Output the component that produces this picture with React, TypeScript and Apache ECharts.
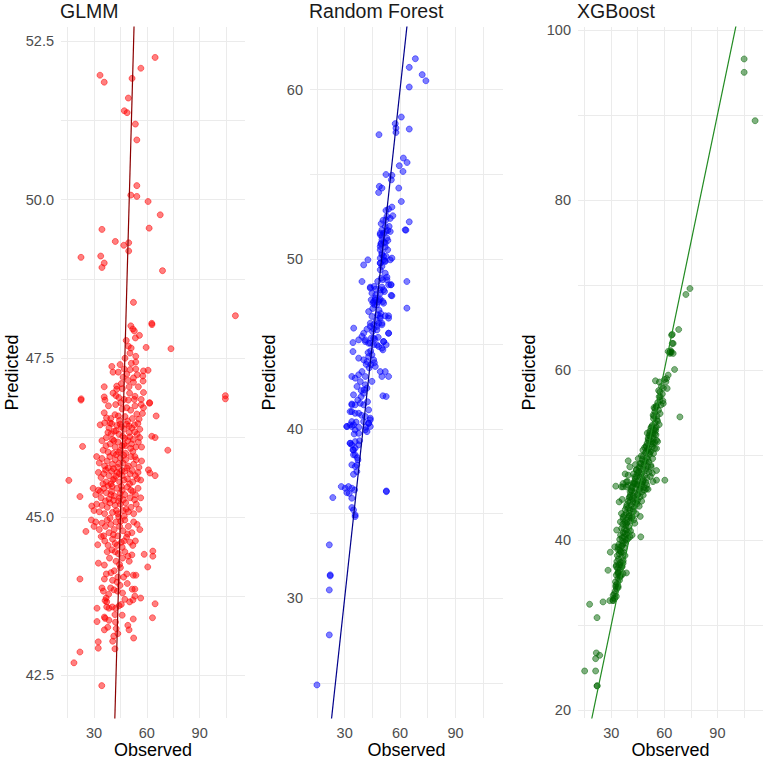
import React, { useEffect, useRef } from "react";
import * as echarts from "echarts";

// ---------- axes ----------
const observedRange = [11.25, 115.75];
const xGridValues = [15, 30, 45, 60, 75, 90, 105];
const xLabelValues = [30, 60, 90];

const glmmYRange = [41.83, 52.72];
const glmmYGrid = [42.5, 43.75, 45, 46.25, 47.5, 48.75, 50, 51.25, 52.5];
const glmmYLabels = [42.5, 45, 47.5, 50, 52.5];

const rfYRange = [22.95, 63.7];
const rfYGrid = [25, 30, 35, 40, 45, 50, 55, 60];
const rfYLabels = [30, 40, 50, 60];

const xgbYRange = [19.1, 100.35];
const xgbYGrid = [20, 30, 40, 50, 60, 70, 80, 90, 100];
const xgbYLabels = [20, 40, 60, 80, 100];

const identityLine = [[0, 0], [130, 130]];

// ---------- data: [observed, predicted] ----------
const glmmPoints = [
  [64.7,52.24],[56.6,52.07],[33.4,51.96],[35.8,51.85],[51.6,51.91],[49.5,51.6],[47.2,51.4],[48.8,51.37],[53.5,51.19],[54.3,50.94],
  [54.3,50.22],[50.9,50.07],[54.3,50.05],[60.7,49.97],[67.6,49.76],[34.5,49.53],[61.3,49.55],[42.1,49.34],[46.9,49.28],[49.7,49.32],
  [49.7,49.19],[22.6,49.09],[33.8,49.11],[35.8,49.0],[34.5,48.93],[68.9,48.88],[52.4,48.38],[110.3,48.17],
  [62.8,48.05],[62.9,48.03],[50.9,48.01],[52,47.96],[52.9,47.93],[55.8,47.86],[53.5,47.82],[49.5,47.69],[51.1,47.66],[59.6,47.67],
  [73.7,47.65],[47.6,47.5],[53.7,47.53],[53.7,47.44],[48.3,47.78],[50.4,47.58],
  [40.1,47.37],[40.8,47.28],[47.2,47.33],[53.7,47.33],[58.1,47.3],[60.7,47.31],[48.6,47.25],[52.4,47.19],[57.7,47.22],[57.9,47.14],
  [52.4,47.12],[49.9,47.05],[35.8,47.05],[42.9,47.06],[42.9,47.01],[50.5,47.32],[45.5,47.1],[46.5,47.2],[44.8,47.4],[55.2,47.05],
  [51.2,47.42],[49.3,47.15],[54.6,47.24],[46.1,47.02],[43.8,47.28],
  [58.1,46.96],[53.3,46.9],[22.6,46.84],[22.7,46.86],[35.8,46.89],[36.2,46.84],[42.5,46.91],[104.6,46.91],[104.6,46.86],[47.1,46.85],
  [49.5,46.84],[52.9,46.85],[56.8,46.85],[61.5,46.79],[61.6,46.8],[48.6,46.72],[53.3,46.75],[56.8,46.77],[58.1,46.72],[35.8,46.64],
  [41.9,46.61],[43.8,46.59],[54.3,46.62],[57.5,46.63],[65.3,46.59],[39.5,46.55],[44.5,46.52],[46,46.7],[50.2,46.95],[45.2,46.8],
  [38.2,46.75],[51.8,46.55],[40.8,46.95],[47.6,46.58],[50.8,46.68],[42.3,46.77],[55.6,46.54],[37.1,46.56],[44.1,46.88],[49.1,46.51],
  [33.5,46.45],[36,46.48],[38.5,46.4],[40,46.47],[41.5,46.35],[43,46.44],[44.2,46.3],[45.5,46.42],[47,46.38],[48.5,46.46],
  [50,46.33],[51.5,46.4],[53,46.45],[54.5,46.3],[56,46.38],[34.5,46.2],[37,46.25],[39.2,46.15],[40.5,46.22],[42,46.1],
  [43.5,46.18],[45,46.05],[46.3,46.27],[47.8,46.12],[49.2,46.2],[50.8,46.08],[52.3,46.22],[53.8,46.1],[55.2,46.18],[57,46.1],
  [35.2,46.05],[38,46.02],[41,46.0],[44,46.02],[48,46.0],[52,46.03],[62.8,46.27],[64.7,46.25],[71.9,46.05],[23.5,46.11],
  [42.6,46.36],[46.9,46.14],[39.8,46.31],[49.9,46.43],[36.8,46.12],[54.9,46.47],[39.1,46.48],[44.9,46.46],[47.4,46.24],[51.3,46.15],
  [53.1,46.34],[37.9,46.33],[41.3,46.2],[45.9,46.12],[50.3,46.26],[55.9,46.25],
  [31.5,45.95],[33,45.85],[34.5,45.92],[36,45.8],[37.5,45.88],[39,45.95],[40.5,45.83],[42,45.9],[43.5,45.78],[45,45.93],
  [46.5,45.85],[48,45.9],[49.5,45.8],[51,45.95],[52.5,45.83],[54,45.9],[55.5,45.78],[57,45.88],[32.5,45.7],[34,45.62],
  [35.5,45.68],[37,45.55],[38.5,45.65],[40,45.72],[41.5,45.6],[43,45.7],[44.5,45.55],[46,45.65],[47.5,45.72],[49,45.6],
  [50.5,45.68],[52,45.55],[53.5,45.65],[55,45.7],[56.5,45.58],[60.9,45.74],[61.8,45.69],[64.7,45.65],[15.7,45.575],[39.6,45.52],
  [44.1,45.84],[47.1,45.58],[41.1,45.76],[36.6,45.74],[50.2,45.52],[42.7,45.98],[45.8,45.73],[38.1,45.77],[40.7,45.58],[44.4,45.68],
  [48.7,45.77],[51.7,45.73],[53.2,45.95],[35.1,45.52],[42.4,45.64],[46.9,45.97],[54.6,45.6],
  [29.5,45.45],[31,45.35],[32.5,45.42],[34,45.3],[35.5,45.45],[37,45.38],[38.5,45.28],[40,45.4],[41.5,45.33],[43,45.45],
  [44.5,45.3],[46,45.42],[47.5,45.35],[49,45.47],[50.5,45.3],[52,45.4],[53.5,45.35],[55,45.45],[56.5,45.3],[22,45.32],
  [28.7,45.17],[30,45.1],[31.5,45.2],[33,45.08],[34.5,45.18],[36,45.05],[37.5,45.15],[39,45.22],[40.5,45.07],[42,45.18],
  [43.5,45.05],[45,45.2],[46.5,45.1],[48,45.22],[49.5,45.08],[51,45.15],[52.5,45.05],[54,45.2],[55.5,45.12],[41.1,45.26],
  [45.6,45.48],[38.1,45.49],[47.2,45.01],[43.9,45.25],[36.5,45.25],[39.6,45.35],[42.7,45.1],[44.9,45.37],[48.3,45.12],[50.9,45.42],
  [53,45.27],[33.6,45.4],[46.7,45.27],[40.3,45.48],
  [25.4,44.77],[28.5,44.95],[30,44.85],[31,44.92],[32.1,44.56],[33,44.8],[34.5,44.9],[35.5,44.7],[36.5,44.85],[37.5,44.95],
  [38.5,44.75],[39.5,44.88],[40.5,44.65],[41.5,44.8],[42.5,44.92],[43.5,44.7],[44.5,44.85],[45.5,44.6],[46.5,44.78],[47.5,44.95],
  [48.5,44.68],[49.5,44.85],[50.5,44.6],[51.5,44.75],[52.5,44.92],[53.5,44.62],[54.5,44.88],[56,44.8],[38,44.55],[42,44.58],
  [46,44.52],[44,45.0],[36.1,44.62],[39.1,44.98],[43.1,44.55],[47.1,44.62],[49.1,44.73],[52,44.55],[34.1,44.69],[45.1,44.93],
  [41,44.72],
  [32.5,44.27],[35.9,44.24],[37.5,44.45],[38.8,44.35],[40.2,44.48],[41.5,44.15],[42.5,44.3],[43.8,44.42],[45,44.2],[46.2,44.35],
  [47.5,44.45],[48.6,44.1],[50,44.3],[51.5,44.4],[58.5,44.41],[63.4,44.46],[63.4,44.38],[60.5,44.21],[22,44.02],[35.9,44.02],
  [40.5,44.0],[43.5,44.05],[52.3,44.08],[53.8,44.08],[44.5,44.25],[39.6,44.12],[46.8,44.05],[49.3,44.38],[42,44.45],[37,44.1],
  [34.5,43.88],[35.3,43.83],[36.9,43.72],[36.3,43.68],[37.2,43.66],[39.4,43.88],[41.3,43.85],[43.3,43.83],[51.7,43.86],[53.2,43.86],
  [52.1,43.69],[50.2,43.66],[53.2,43.75],[56.5,43.72],[64.7,43.63],[31.7,43.56],[37.2,43.58],[38.5,43.56],[40.4,43.58],[42.3,43.56],
  [44.3,43.6],[45.5,43.62],[43.1,43.97],[46.2,43.8],[48.9,43.95],[47.5,43.7],[38.3,43.78],[44.8,43.92],
  [31.7,43.35],[35.9,43.42],[36.3,43.4],[38.5,43.37],[41.9,43.46],[42.2,43.34],[52.3,43.39],[63.2,43.41],[35.9,43.22],[42.6,43.24],
  [43.5,43.16],[49.2,43.29],[49.9,43.22],[52.5,43.09],[40.6,43.04],[41.2,43.12],[37.8,43.26],[46.0,43.45],
  [32.4,43.03],[32.4,42.93],[41.9,42.92],[22,42.87],[18.6,42.7],[34.4,42.34]
];

const rfPoints = [
  [68.3,61.83],[65,61.32],[72,60.89],[74,60.53],[65,60.16],[60.7,58.39],[57.4,58.0],[57.8,57.74],[57.8,57.48],[65,57.68],
  [48.6,57.35],[61.8,55.97],[63.8,55.71],[61.6,55.18],[59.6,55.52],[52.4,55.0],[55.6,54.95],[55.3,54.69],[48.8,54.3],[50.2,54.2],
  [48.4,53.94],[59.3,54.2],[60.7,53.41],[52.4,52.88],[53.8,52.96],[55.6,53.08],
  [52.9,52.53],[54.7,52.41],[52.4,52.33],[56.1,52.57],[49.8,52.1],[52,51.94],[50.2,51.74],[53.4,51.7],[54.1,51.94],[51.1,51.54],
  [49.3,51.45],[62.8,51.74],[63.2,51.72],[65,52.21],[50.2,51.35],[52.9,51.25],[49.8,50.95],[52,50.72],[53.4,51.11],
  [49.3,50.56],[50.2,50.27],[51.1,49.97],[49.3,49.78],[50.2,49.58],[52.5,50.17],[55.6,50.07],[40.3,49.67],[42.6,49.97],
  [49.3,49.38],[52,49.18],[49.8,48.89],[52.9,48.95],[55.2,48.5],[39.4,48.69],[63.7,48.69],
  [43.9,48.36],[46.9,48.24],[50.2,48.36],[44.8,48.0],[46.6,47.71],[49.3,48],[51.6,48.1],[55.2,47.87],
  [45.7,47.51],[46.2,47.32],[48.7,47.61],[51.1,47.41],[63.7,47.12],
  [43,46.92],[44.8,46.63],[49.3,46.63],[52,46.67],[53.8,46.67],[43.9,46.23],[45.7,46.14],[48.4,46.23],[50.2,46.14],
  [34.9,45.94],[40.3,45.64],[45.1,45.74],[47.5,45.84],[53.8,45.64],
  [34.5,45.09],[34.5,44.56],[37.6,45.25],[41.2,45.15],[43.9,45.05],[45.7,45.35],[48.4,44.86],[51.1,45.15],[50.7,44.66],
  [49.3,51.54],[52.5,51.64],[54.7,51.64],[50.2,51.15],[52,50.95],[49.3,50.76],[53.3,50.56],[50.2,50.36],[51.1,50.17],[49.3,50.07],
  [54.7,49.97],[52,49.87],[49.3,49.77],[52.9,48.79],[53.8,48.5],[55,48.5],[43.9,48.3],[46,48.4],[49.3,48.2],[51.1,48.2],
  [55.6,47.85],[44.4,47.61],[46.6,47.61],[49.3,47.65],[45.3,47.41],[48.4,47.51],[50.7,47.51],[47.5,47.32],
  [47.8,46.73],[49.3,46.53],[53.8,46.53],[50.2,46.23],[47.5,46.04],[43.9,46.04],[42.1,45.88],
  [53.8,45.64],[51.1,45.15],[52.5,44.96],[50.2,44.76],[39.4,45.45],[41.2,45.25],[44.4,45.35],[43,45.05],[45.7,44.96],[47.5,44.96],
  [37.6,44.17],[40.3,44.07],[43,44.27],[44.8,44.37],[42.1,43.97],[45.7,44.07],[44.2,43.78],
  [46.6,43.68],[49.3,43.38],[52,43.38],[53.8,43.09],[50.2,43.09],[52.5,41.91],
  [33.9,43.09],[35.7,42.99],[37.6,43.19],[39.4,43.38],[41.2,43.09],[38.5,42.79],[41.2,42.6],[42.1,42.4],[36.7,42.5],[39,42.26],
  [40.3,42.1],[34.8,42.01],[33.9,41.47],[33,41.02],[35.7,41.42],[38.5,41.51],[37.6,40.92],
  [31.2,40.14],[33,40.24],[33.9,40.43],[35.7,39.94],[40.3,40.43],[43,40.33],[43.9,40.53],[42.1,39.84],[37.6,39.74],
  [33,39.15],[34.5,38.76],[35.7,38.86],[37.6,39.06],[34.8,38.47],
  [50.7,41.95],[33.9,41.42],[33.9,41.02],[35.7,40.92],[40.3,41.42],[43,41.12],[41.2,40.73],[43.9,40.63],[43,40.33],[43.9,40.14],
  [41.2,39.94],[31.2,40.14],[33.9,40.14],[34.8,40.24],[37.6,40.1],
  [33,39.15],[33.9,39.06],[35.7,39.25],[34.8,38.76],[35.7,38.47],[37.2,38.17],
  [33.9,37.88],[35.7,37.78],[36.6,37.88],[36.6,37.48],[34.8,37.32],
  [28.2,36.6],[30.3,36.5],[32.1,36.6],[33.9,36.5],[35.4,36.4],[32.5,36.2],[31.2,36.24],[23.6,35.95],[52.6,36.34],[52.6,36.3],
  [33.9,35.91],[33.9,35.36],[34.8,35.22],[35.7,34.93],[35.7,34.83],
  [21.7,33.16],[22.2,31.39],[22.2,31.33],[21.7,30.5],[21.7,27.85],[15,24.9],
  [45.6,45.9],[47.2,46.4],[44.1,44.6],[46.3,45.3],[42.7,44.5],[48.6,47.0],[46.9,47.9],[50.7,48.8],[51.8,49.9],[49.6,50.9],
  [51.4,51.0],[50.8,52.3],[47.9,48.7],[45.2,47.1],[43.3,43.6],[41.7,43.8],[40.6,42.3],[38.9,41.9],[37.1,41.7],[36.2,40.4],
  [39.2,40.8],[42.4,41.6],[41.5,40.1],[38.1,39.3],[36.9,38.3],[35.2,39.7],[44.8,42.8],[46.1,43.9],[48.2,45.4],[49.6,46.8]
];

const xgbPoints = [
  [105.1,96.59],[105.1,95.02],[111.3,89.33],[74.5,69.6],[72.2,68.9],[68.1,64.78],[64.5,64.2],[64.5,63.14],[62.2,62.2],[63.1,62.1],
  [64.0,62.1],[63.6,62.3],[65.8,60.08],[68.8,54.5],[55,58.75],[60.3,47.06],[55.6,48.2],[55.6,47.06],[46.7,40.4],[29.5,38.6],
  [28.2,36.47],[17.8,32.47],[25.4,32.75],[29.2,32.9],[31,32.9],[22,30.9],[21.6,26.75],[21.2,26.08],[23.5,26.47],[15,24.63],
  [21.2,24.63],[22,22.86],[22.1,22.9],
  [64.1,64.12],[65,63.14],[63.5,62.16],[63.2,61.97],[65,61.97],[62.2,59.42],[61.3,59.02],[60.9,58.63],[61.6,57.85],
  [57.5,57.46],[57.1,56.87],[59.4,56.08],[57.5,56.47],[55.6,55.69],[54.7,55.49],
  [53.7,54.71],[52.8,53.34],[51.8,52.55],[50.9,51.77],[49.9,50.99],[54.7,52.55],[55.6,51.77],[55.6,50.79],[53.7,51.38],
  [47.1,49.93],[46.2,49.02],[44.3,48.24],[43.3,47.46],[42.4,46.67],[41.4,45.89],[40.5,45.1],
  [39.6,49.34],[40.5,48.63],[39.6,47.65],[38.6,46.87],[36.7,46.67],[32.6,46.36],[35.8,46.28],[38.6,46.28],
  [36.7,46.28],[39.6,46.47],[43.3,46.67],[48,46.86],[49.9,46.08],[34.5,44.51],
  [35.8,43.14],[35.2,42.16],[36.7,42.75],[38.6,43.92],[40.5,44.51],[38.6,41.96],
  [32,39.22],[33.9,39.22],[34.8,38.82],[36.7,39.61],[38.6,40],[37.7,40.79],
  [32.9,37.06],[33.9,36.27],[35.8,36.86],[36.7,36.08],[38.6,36.16],[34.8,35.69],
  [32.6,34.51],[33,34.31],[33.9,34.43],[31.1,33.53],[32,33.14],[31.1,32.94],
  [57.2,58.6],[58.4,58.1],[59.5,57.9],[56.8,57.6],[58.9,57.2],[60.1,58.9],[57.7,56.9],[59.2,56.4],[56.3,56.2],[58.1,55.9],
  [55.4,55.8],[56.7,55.3],[54.6,55.1],[57.6,54.9],[55.9,54.6],[53.9,54.3],[56.2,54.0],[54.8,53.8],[57.1,53.6],[53.2,53.5],
  [55.5,53.3],[54.2,55.6],
  [52.4,53.2],[54.1,53.0],[51.8,52.8],[53.5,52.6],[55.3,52.4],[52.2,52.2],[50.9,52.0],[53.8,51.9],[51.5,51.7],[54.6,51.5],
  [50.3,51.4],[52.7,51.3],[49.8,51.1],[53.3,51.0],[51.2,50.8],[55.1,52.9],[50.4,52.6],[56.2,51.6],
  [48.9,50.9],[50.6,50.6],[52.3,50.4],[49.4,50.3],[51.7,50.1],[48.2,49.9],[50.1,49.7],[53.4,49.6],[47.6,49.5],[49.3,49.3],
  [51.2,49.2],[46.9,49.0],[48.7,48.9],[50.5,48.7],[52.6,48.6],[46.2,48.5],[47.9,48.4],[49.8,48.2],[45.6,48.1],[51.4,48.0],
  [44.9,47.9],[53.9,50.2],[45.3,49.6],[43.7,48.9],
  [47.2,47.8],[48.8,47.6],[44.3,47.5],[46.1,47.4],[50.2,47.3],[43.6,47.2],[45.5,47.0],[47.7,46.9],[49.5,46.8],[42.9,46.7],
  [44.8,46.6],[46.8,46.4],[42.1,46.3],[48.6,46.2],[43.9,46.1],[45.9,45.9],[41.5,45.8],[47.4,45.7],[43.2,45.6],[44.9,45.4],
  [40.8,45.3],[42.5,45.2],[46.3,45.1],[40.1,45.0],[52.1,47.5],[53.6,46.9],[50.8,46.0],[48.1,45.3],[39.2,46.9],[37.9,47.8],
  [41.8,44.9],[43.7,44.8],[39.6,44.6],[42.4,44.5],[44.6,44.3],[38.9,44.2],[41.2,44.1],[43.1,43.9],[39.8,43.8],[37.9,43.6],
  [40.6,43.5],[42.6,43.4],[38.5,43.2],[44.2,43.1],[37.3,42.9],[39.9,42.8],[41.7,42.7],[36.8,42.5],[38.7,42.4],[40.8,42.3],
  [37.6,42.1],[43.3,42.0],[36.2,44.8],[45.8,44.0],[46.4,42.8],
  [36.5,41.9],[38.3,41.7],[39.7,41.6],[35.9,41.4],[37.5,41.3],[40.9,41.1],[36.8,40.9],[38.9,40.7],[35.3,40.6],[37.1,40.4],
  [39.6,40.2],[34.8,40.1],[36.4,39.9],[38.1,39.7],[34.3,39.5],[35.8,39.3],[37.4,39.1],[33.8,38.9],[35.2,38.7],[36.9,38.6],
  [41.8,40.6],[33.1,41.2],
  [34.6,38.4],[33.5,38.2],[35.9,38.0],[34.1,37.8],[33.2,37.5],[35.3,37.4],[34.4,37.1],[36.2,36.9],[33.6,36.7],[35.0,36.5],
  [34.1,36.2],[32.9,35.9],[35.6,35.8],[33.8,35.5],[34.7,35.3],[32.4,35.1],[36.8,37.6],
  [33.3,34.9],[32.6,34.7],[33.9,34.6],[32.2,34.0],[31.8,33.7],[32.9,33.4],[31.4,33.2],
  [44.7,45.3],[46.3,46.1],[45.1,46.5],[47.3,46.6],[48.2,47.1],[46.6,47.7],[49.6,48.4],[48.3,49.2],[50.8,49.5],[49.9,50.5],
  [51.6,50.3],[52.9,51.6],[51.4,52.3],[53.7,52.2],[54.9,53.1],[54.1,54.6],[55.8,54.2],[41.3,42.6],[42.8,42.4],[42.2,43.7],
  [43.8,44.4],[40.2,43.2],[44.9,44.7],[38.4,40.1],[39.3,40.9],[40.6,40.4],[39.1,42.1],[40.3,42.9],[35.5,37.1],[36.7,37.3],
  [35.7,38.6],[37.8,38.2],[36.3,39.4],[38.6,41.2],[33.7,36.1],[34.9,35.8],[32.8,36.9],[36.1,40.3],[47.9,50.6],[45.8,48.6],
  [44.2,48.3],[43.1,46.9],[41.6,46.2],[40.7,45.7],[42.6,47.8],[48.8,45.9],[50.1,46.5],[47.2,44.6],[52.4,48.8],[54.5,50.8],
  [53.2,47.9]
];

const FONT = "'Liberation Sans', Arial, Helvetica, sans-serif";

const panels = [
  {
    title: "GLMM", points: glmmPoints, pointColor: "rgba(255,0,0,0.5)", lineColor: "#8B0000",
    yRange: glmmYRange, yGrid: glmmYGrid, yLabels: glmmYLabels, decimals: 1,
    left: 61, width: 184, yNameGap: 40,
  },
  {
    title: "Random Forest", points: rfPoints, pointColor: "rgba(0,0,255,0.5)", lineColor: "#00008B",
    yRange: rfYRange, yGrid: rfYGrid, yLabels: rfYLabels, decimals: 0,
    left: 310, width: 193, yNameGap: 32,
  },
  {
    title: "XGBoost", points: xgbPoints, pointColor: "rgba(0,100,0,0.5)", lineColor: "#228B22",
    yRange: xgbYRange, yGrid: xgbYGrid, yLabels: xgbYLabels, decimals: 0,
    left: 578, width: 185, yNameGap: 40,
  },
];

export default function App() {
  const ref = useRef<HTMLDivElement>(null);

  useEffect(() => {
    document.body.style.margin = "0";
    if (!ref.current) return;
    const chart = echarts.init(ref.current, undefined, { renderer: "svg" });
    const top = 27;
    const height = 691;

    const titles: any[] = [];
    const grids: any[] = [];
    const xAxes: any[] = [];
    const yAxes: any[] = [];
    const series: any[] = [];

    panels.forEach((p, i) => {
      titles.push({
        text: p.title,
        left: p.left - 1,
        top: 1,
        textStyle: { fontFamily: FONT, fontSize: 19.5, fontWeight: "normal", color: "#1a1a1a" },
        padding: 0,
      });
      grids.push({ left: p.left, top, width: p.width, height, containLabel: false, outerBoundsMode: "none" });
      xAxes.push({
        type: "value",
        gridIndex: i,
        min: observedRange[0],
        max: observedRange[1],
        name: "Observed",
        nameLocation: "middle",
        nameGap: 23,
        nameMoveOverlap: false,
        nameTextStyle: { fontFamily: FONT, fontSize: 18, color: "#000000" },
        axisLine: { show: false },
        axisTick: { show: false, customValues: xGridValues },
        axisLabel: {
          customValues: xLabelValues,
          color: "#4d4d4d",
          fontFamily: FONT,
          fontSize: 14.5,
          margin: 7,
          formatter: (v: number) => String(Math.round(v)),
        },
        splitLine: { show: true, lineStyle: { color: "#ebebeb", width: 1 } },
      });
      yAxes.push({
        type: "value",
        gridIndex: i,
        min: p.yRange[0],
        max: p.yRange[1],
        name: "Predicted",
        nameLocation: "middle",
        nameGap: p.yNameGap,
        nameMoveOverlap: false,
        nameTextStyle: { fontFamily: FONT, fontSize: 18, color: "#000000" },
        axisLine: { show: false },
        axisTick: { show: false, customValues: p.yGrid },
        axisLabel: {
          customValues: p.yLabels,
          color: "#4d4d4d",
          fontFamily: FONT,
          fontSize: 14.5,
          margin: 7,
          formatter: (v: number) => v.toFixed(p.decimals),
        },
        splitLine: { show: true, lineStyle: { color: "#ebebeb", width: 1 } },
      });
      series.push({
        type: "scatter",
        xAxisIndex: i,
        yAxisIndex: i,
        data: p.points,
        symbol: "circle",
        symbolSize: 6,
        itemStyle: { color: p.pointColor, borderColor: p.pointColor, borderWidth: 1, opacity: 1 },
        emphasis: { disabled: true },
        silent: true,
        z: 2,
      });
      series.push({
        type: "line",
        xAxisIndex: i,
        yAxisIndex: i,
        data: identityLine,
        symbol: "none",
        clip: true,
        lineStyle: { color: p.lineColor, width: 1.2 },
        silent: true,
        z: 3,
      });
    });

    chart.setOption({
      animation: false,
      backgroundColor: "#ffffff",
      title: titles,
      grid: grids,
      xAxis: xAxes,
      yAxis: yAxes,
      series,
      tooltip: { show: false },
    });

    return () => chart.dispose();
  }, []);

  return (
    <div
      ref={ref}
      style={{ position: "relative", width: 765, height: 761, background: "#ffffff" }}
    />
  );
}
